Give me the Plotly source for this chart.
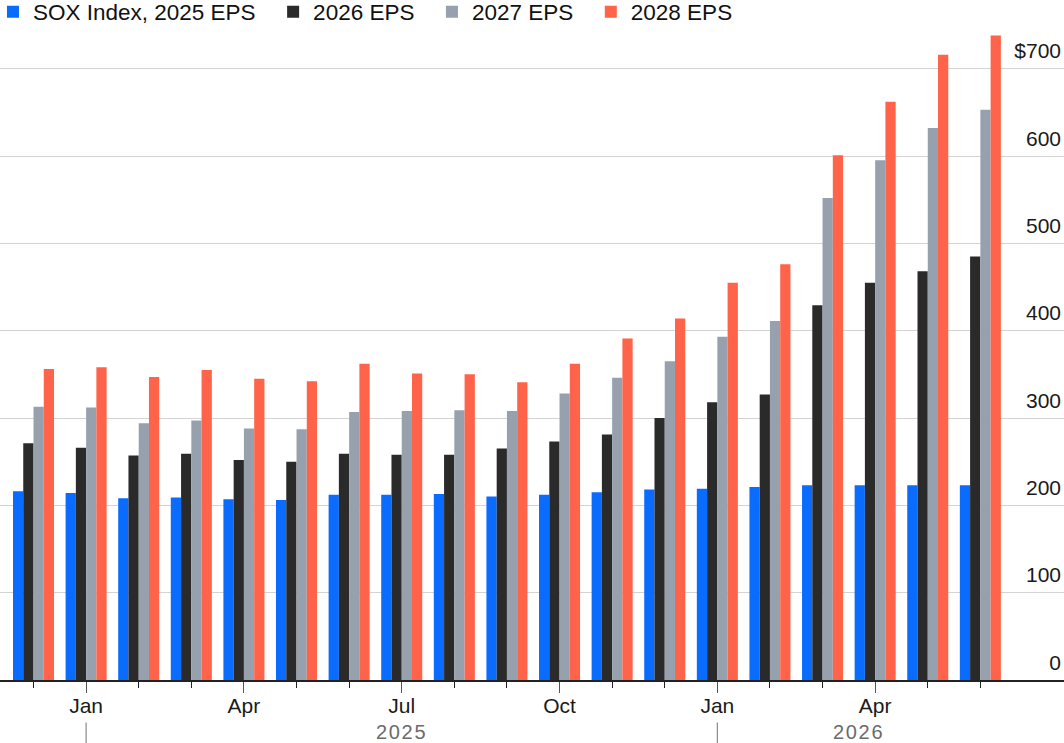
import plotly.graph_objects as go

months = ["Dec 2024", "Jan 2025", "Feb 2025", "Mar 2025", "Apr 2025", "May 2025", "Jun 2025",
          "Jul 2025", "Aug 2025", "Sep 2025", "Oct 2025", "Nov 2025", "Dec 2025",
          "Jan 2026", "Feb 2026", "Mar 2026", "Apr 2026", "May 2026", "Jun 2026"]
major_ticks = [1, 4, 7, 10, 13, 16]
major_labels = ["Jan", "Apr", "Jul", "Oct", "Jan", "Apr"]

eps_2025 = [216, 214, 208, 209, 207, 206, 212, 212, 213, 210, 212, 215, 218, 219, 221, 223, 223, 223, 223]
eps_2026 = [271, 266, 257, 259, 252, 250, 259, 258, 258, 265, 273, 281, 300, 318, 327, 429, 455, 468, 485]
eps_2027 = [313, 312, 294, 297, 288, 287, 307, 308, 309, 308, 328, 346, 365, 393, 411, 552, 595, 632, 653]
eps_2028 = [356, 358, 347, 355, 345, 342, 362, 351, 350, 341, 362, 391, 414, 455, 476, 601, 662, 716, 738]

series_names = ["SOX Index, 2025 EPS", "2026 EPS", "2027 EPS", "2028 EPS"]
series_values = [eps_2025, eps_2026, eps_2027, eps_2028]
colors = ["#0a6cff", "#2a2a2a", "#97a1ae", "#ff6349"]

y_ticks = [0, 100, 200, 300, 400, 500, 600, 700]
y_labels = ["0", "100", "200", "300", "400", "500", "600", "$700"]

year_labels = ["2\u200a0\u200a2\u200a5", "2\u200a0\u200a2\u200a6"]
year_pos = [6.99, 15.67]
year_sep = [1, 13]

idx = list(range(len(months)))

fig = go.Figure()
for name, vals, col in zip(series_names, series_values, colors):
    fig.add_trace(go.Bar(x=idx, y=vals, name=name + "\u00a0\u00a0",
                         marker=dict(color=col, line=dict(width=0)),
                         hovertext=months))

font = "Liberation Sans, Arial, sans-serif"
fig.update_layout(
    width=1064, height=743,
    margin=dict(l=0, r=0, t=25, b=63, autoexpand=False),
    plot_bgcolor="white", paper_bgcolor="white",
    barmode="group", bargap=0.22, bargroupgap=0,
    font=dict(family=font, size=21, color="#1a1a1a"),
    showlegend=True,
    legend=dict(orientation="h", x=-0.0066, y=1 + 13 / 655, xanchor="left", yanchor="middle",
                font=dict(size=22.5, color="#111"), bgcolor="rgba(0,0,0,0)",
                itemwidth=30, tracegroupgap=0),
    xaxis=dict(range=[-0.637, 19.59], tickmode="array", tickvals=major_ticks, ticktext=major_labels,
               ticks="outside", ticklen=11, tickcolor="#555", tickwidth=1.2, automargin=False,
               ticklabelstandoff=-5,
               minor=dict(ticks="outside", ticklen=6, tickcolor="#222", tickwidth=1.2,
                          tickmode="linear", tick0=0, dtick=1, showgrid=False),
               showline=True, linecolor="#222", linewidth=1.5, showgrid=False, zeroline=False,
               tickfont=dict(size=21, color="#1a1a1a")),
    yaxis=dict(range=[0, 750], side="right", tickmode="array", tickvals=y_ticks, ticktext=y_labels,
               ticklabelposition="inside top", ticklabelshift=-3,
               showgrid=True, gridcolor="#d3d3d3", gridwidth=1,
               automargin=False,
               zeroline=False, ticks="", tickfont=dict(size=21, color="#1a1a1a")),
)

for lab, pos in zip(year_labels, year_pos):
    fig.add_annotation(x=pos, y=-0.079, xref="x", yref="paper", text=lab, showarrow=False,
                       font=dict(size=20, color="#6b6b6b"), xanchor="center", yanchor="middle")
for s in year_sep:
    fig.add_shape(type="line", xref="x", yref="paper", x0=s, x1=s, y0=-0.065, y1=-0.1,
                  line=dict(color="#888", width=1.2))

fig.write_html("out.html", config={"displayModeBar": False},
               post_script="document.body.style.margin='0';")
